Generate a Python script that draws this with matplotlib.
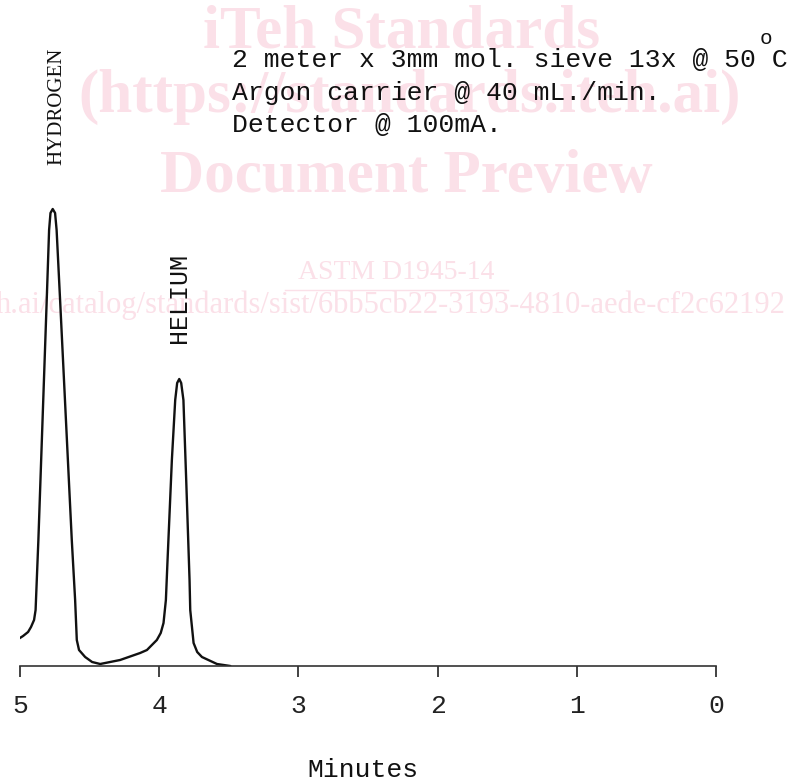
import matplotlib
matplotlib.use("Agg")
import matplotlib.pyplot as plt

# chromatogram trace (retention time in minutes, detector signal)
minutes = [5.012, 4.978, 4.942, 4.921, 4.899, 4.888, 4.868, 4.808, 4.791, 4.781,
           4.765, 4.748, 4.737, 4.712, 4.628, 4.604, 4.592, 4.576, 4.532, 4.482,
           4.424, 4.281, 4.137, 4.088, 4.017, 3.989, 3.969, 3.952, 3.940, 3.909,
           3.885, 3.871, 3.856, 3.842, 3.826, 3.806, 3.782, 3.777, 3.753, 3.727,
           3.693, 3.585, 3.489]
signal = [27, 30, 34, 39, 46, 56, 126, 366, 436, 453,
          457, 453, 436, 366, 126, 66, 26, 16, 9, 4,
          2, 6, 13, 16, 26, 33, 43, 66, 106, 206,
          266, 283, 287, 283, 266, 186, 86, 56, 23, 14,
          9, 2, 0]

tick_vals = [5, 4, 3, 2, 1, 0]
tick_labels = ["5", "4", "3", "2", "1", "0"]

W, H = 788, 782
mono = "Liberation Mono"
serif = "Liberation Serif"
pink = "#fbe0e8"

fig = plt.figure(figsize=(W / 100, H / 100), dpi=100)


def fx(px):
    return px / W


def fy(py):
    return 1 - py / H


# watermark, behind everything
wm = dict(color=pink, family=serif, ha="center", va="center", zorder=-5)
fig.text(fx(402), fy(32), "iTeh Standards", fontsize=44, weight="bold", **wm)
fig.text(fx(410), fy(97), "(https://standards.iteh.ai)", fontsize=44, weight="bold", **wm)
fig.text(fx(406), fy(177), "Document Preview", fontsize=44, weight="bold", **wm)
fig.text(fx(396), fy(273), "ASTM D1945-14", fontsize=20, **wm)
fig.add_artist(plt.Line2D([fx(285), fx(508)], [fy(290), fy(290)], color=pink, lw=1, zorder=-5))
fig.text(fx(-4), fy(305), "h.ai/catalog/standards/sist/6bb5cb22-3193-4810-aede-cf2c62192",
         fontsize=22, color=pink, family=serif, ha="left", va="center", zorder=-5)

ax = fig.add_axes([fx(20), 1 - 666 / H, (716 - 20) / W, 666 / H])
ax.patch.set_alpha(0)
ax.plot(minutes, signal, color="#111111", lw=1.7, solid_capstyle="round",
        solid_joinstyle="round")

ax.set_xlim(5, 0)
ax.set_ylim(0, 666)
for s in ["top", "right", "left"]:
    ax.spines[s].set_visible(False)
ax.spines["bottom"].set_color("#333333")
ax.spines["bottom"].set_linewidth(1.2)
ax.set_yticks([])
ax.set_xticks(tick_vals)
ax.set_xticklabels(tick_labels, family=mono, fontsize=19)
ax.tick_params(axis="x", direction="out", length=8, width=1.2, pad=12, colors="#222222")

# peak labels
fig.text(fx(57), fy(106), "HYDROGEN", rotation=90, family=serif, fontsize=15,
         ha="center", va="center", color="#111111")
fig.text(fx(179), fy(298), "HELIUM", rotation=90, family=mono, fontsize=18,
         ha="center", va="center", color="#111111")

# run conditions
cond = dict(family=mono, fontsize=19, ha="left", va="center", color="#111111")
fig.text(fx(232), fy(60), "2 meter x 3mm mol. sieve 13x @ 50 C", **cond)
fig.text(fx(760), fy(38), "o", family=mono, fontsize=15, ha="left", va="center", color="#111111")
fig.text(fx(232), fy(93), "Argon carrier @ 40 mL./min.", **cond)
fig.text(fx(232), fy(125), "Detector @ 100mA.", **cond)

fig.text(fx(363), fy(770), "Minutes", family=mono, fontsize=19, ha="center", va="center",
         color="#111111")

fig.savefig("out.png", dpi=100)
